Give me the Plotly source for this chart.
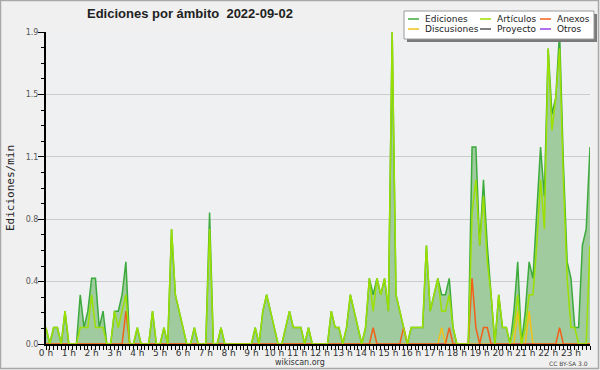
import plotly.graph_objects as go

# ---- data: edits per minute, 10-minute bins, 2022-09-02 ----
hour_labels = [f"{h} h" for h in range(24)]
y_tick_vals = [0, 0.38, 0.76, 1.14, 1.52, 1.9]
y_tick_text = ["0.0", "0.4", "0.8", "1.1", "1.5", "1.9"]

ediciones = [
    0.1, 0, 0.1, 0.1, 0, 0.2, 0, 0, 0, 0.3,
    0.1, 0.2, 0.4, 0.4, 0.1, 0.2, 0, 0, 0.2, 0.2,
    0.3, 0.5, 0, 0, 0.1, 0, 0, 0, 0.2, 0,
    0, 0.1, 0, 0.7, 0.3, 0.2, 0.1, 0, 0, 0.1,
    0, 0, 0, 0.8, 0, 0, 0.1, 0, 0, 0,
    0, 0, 0, 0, 0, 0.1, 0, 0.2, 0.3, 0.2,
    0.1, 0, 0, 0.1, 0.2, 0.1, 0.1, 0.1, 0, 0.1,
    0, 0, 0, 0, 0, 0.2, 0.1, 0.1, 0, 0.1,
    0.3, 0.2, 0.1, 0, 0.1, 0.4, 0.3, 0.4, 0.3, 0.4,
    0.2, 1.9, 0.3, 0.2, 0.1, 0, 0.1, 0.1, 0.1, 0.1,
    0.6, 0.2, 0.3, 0.4, 0.3, 0.3, 0.4, 0.1, 0, 0,
    0, 0, 1.2, 1.2, 0.6, 1.0, 0.6, 0.3, 0, 0.3,
    0.1, 0.1, 0, 0.2, 0.5, 0, 0.2, 0.5, 0.4, 0.8,
    1.2, 0.9, 1.8, 1.4, 1.5, 1.9, 1.1, 0.5, 0.4, 0.1,
    0.1, 0.6, 0.7, 1.2,
]
articulos = [
    0.1, 0, 0.1, 0.1, 0, 0.2, 0, 0, 0, 0.1,
    0.1, 0.1, 0.3, 0.1, 0.1, 0.1, 0, 0, 0.2, 0.1,
    0.2, 0.3, 0, 0, 0.1, 0, 0, 0, 0.2, 0,
    0, 0.1, 0, 0.7, 0.3, 0.2, 0.1, 0, 0, 0.1,
    0, 0, 0, 0.7, 0, 0, 0.1, 0, 0, 0,
    0, 0, 0, 0, 0, 0.1, 0, 0.2, 0.3, 0.2,
    0.1, 0, 0, 0.1, 0.2, 0.1, 0.1, 0.1, 0, 0.1,
    0, 0, 0, 0, 0, 0.2, 0.1, 0.1, 0, 0.1,
    0.3, 0.2, 0.1, 0, 0.1, 0.4, 0.2, 0.4, 0.3, 0.4,
    0.2, 1.9, 0.3, 0.2, 0.1, 0, 0.1, 0.1, 0.1, 0.1,
    0.6, 0.2, 0.3, 0.4, 0.2, 0.2, 0.3, 0.1, 0, 0,
    0, 0, 0.8, 1.0, 0.6, 0.9, 0.5, 0.3, 0, 0.3,
    0.1, 0.1, 0, 0.1, 0.3, 0, 0.1, 0.3, 0.3, 0.6,
    1.0, 0.7, 1.8, 1.3, 1.5, 1.8, 1.0, 0.4, 0.1, 0.1,
    0, 0, 0, 0.6,
]
anexos_points = {21: 0.2, 86: 0.1, 94: 0.1, 106: 0.1, 112: 0.4, 113: 0.1,
                 115: 0.1, 116: 0.1, 135: 0.1}
discusiones_points = {104: 0.1, 124: 0.2, 127: 0.2}
n = len(ediciones)
anexos = [anexos_points.get(i, 0) for i in range(n)]
discusiones = [discusiones_points.get(i, 0) for i in range(n)]
proyecto = [0] * n
otros = [0] * n

x = [i / 6 for i in range(n)]  # hours

C_ED = "#3daa3d"
C_FILL = "#9fcb9f"
C_ART = "#9be000"
C_ANE = "#f2601a"
C_DIS = "#f2c21a"
C_PRO = "#555555"
C_OTR = "#9a40e8"

fig = go.Figure()
fig.add_trace(go.Scatter(x=x, y=ediciones, mode="lines", fill="tozeroy",
                         fillcolor=C_FILL, line=dict(color=C_ED, width=1.5),
                         showlegend=False))
for ys, c in [(proyecto, C_PRO), (otros, C_OTR), (discusiones, C_DIS),
              (anexos, C_ANE), (articulos, C_ART)]:
    fig.add_trace(go.Scatter(x=x, y=ys, mode="lines",
                             line=dict(color=c, width=1.5), showlegend=False))

L, R, T, B = 46, 10, 32, 26
W, H = 600, 370
PW, PH = W - L - R, H - T - B


def X(px):
    return (px - L) / PW


def Y(py):
    return (H - B - py) / PH


shapes = []
annotations = []
# image frame
shapes.append(dict(type="rect", xref="paper", yref="paper",
                   x0=X(0.5), x1=X(W - 1.5), y0=Y(0.5), y1=Y(H - 1.5),
                   line=dict(color="#a8a8a8", width=1.5), fillcolor="rgba(0,0,0,0)",
                   layer="above"))
# legend: shadow + box
shapes.append(dict(type="rect", xref="paper", yref="paper",
                   x0=X(407), x1=X(597), y0=Y(14), y1=Y(42),
                   line=dict(width=0), fillcolor="#7a7a7a", layer="above"))
shapes.append(dict(type="rect", xref="paper", yref="paper",
                   x0=X(404), x1=X(594), y0=Y(11), y1=Y(39),
                   line=dict(color="#9a9a9a", width=1), fillcolor="#ffffff",
                   layer="above"))
legend_items = [
    ("Ediciones", C_ED, 408, 19), ("Artículos", C_ART, 480, 19), ("Anexos", C_ANE, 540, 19),
    ("Discusiones", C_DIS, 408, 29), ("Proyecto", C_PRO, 480, 29), ("Otros", C_OTR, 540, 29),
]
for name, col, lx, ly in legend_items:
    shapes.append(dict(type="line", xref="paper", yref="paper",
                       x0=X(lx), x1=X(lx + 11), y0=Y(ly), y1=Y(ly),
                       line=dict(color=col, width=1.5), layer="above"))
    annotations.append(dict(text=name, xref="paper", yref="paper",
                            x=X(lx + 15), y=Y(ly), xanchor="left", yanchor="middle",
                            showarrow=False,
                            font=dict(family="DejaVu Sans", size=9, color="#222222")))

annotations.append(dict(text="<b>Ediciones por ámbito \u00a02022-09-02</b>",
                        xref="paper", yref="paper", x=X(85), y=Y(14),
                        xanchor="left", yanchor="middle", showarrow=False,
                        font=dict(family="Liberation Sans", size=13, color="#222222")))
annotations.append(dict(text="wikiscan.org", xref="paper", yref="paper",
                        x=X(300), y=Y(362.5), xanchor="center", yanchor="middle",
                        showarrow=False,
                        font=dict(family="DejaVu Sans", size=8, color="#333333")))
annotations.append(dict(text="CC BY-SA 3.0", xref="paper", yref="paper",
                        x=X(590), y=Y(363), xanchor="right", yanchor="middle",
                        showarrow=False,
                        font=dict(family="DejaVu Sans", size=6, color="#444444")))
annotations.append(dict(text="Ediciones/min", xref="paper", yref="paper",
                        x=X(10), y=Y(188), xanchor="center", yanchor="middle",
                        textangle=-90, showarrow=False,
                        font=dict(family="DejaVu Sans Mono", size=11, color="#222222")))

fig.update_layout(
    width=W, height=H, autosize=False,
    margin=dict(l=L, r=R, t=T, b=B, pad=0, autoexpand=False),
    paper_bgcolor="#f0f0f0",
    plot_bgcolor="#eff0f2",
    shapes=shapes,
    annotations=annotations,
    showlegend=False,
    xaxis=dict(range=[0, (n - 1) / 6], tickvals=list(range(24)), ticktext=hour_labels,
               ticks="outside", ticklen=4, tickwidth=1, tickcolor="#000",
               showline=True, linecolor="#000", linewidth=2, showgrid=False,
               zeroline=False, automargin=False, ticklabelstandoff=-5,
               tickfont=dict(family="DejaVu Sans", size=9, color="#333333"),
               minor=dict(dtick=1 / 6, tick0=0, ticks="outside", ticklen=4,
                          tickcolor="#000", tickwidth=1, showgrid=False)),
    yaxis=dict(range=[0, 1.9], tickvals=y_tick_vals, ticktext=y_tick_text,
               ticks="outside", ticklen=6, tickwidth=1, tickcolor="#000",
               showline=True, linecolor="#000", linewidth=2, automargin=False,
               showgrid=True, gridcolor="#cccccc", gridwidth=1, zeroline=False,
               ticklabelstandoff=-2,
               tickfont=dict(family="DejaVu Sans", size=8, color="#555555"),
               minor=dict(dtick=0.095, tick0=0, ticks="outside", ticklen=3,
                          tickcolor="#000", tickwidth=1, showgrid=False)),
)

fig.write_html("out.html", config={"displayModeBar": False, "responsive": False},
               default_width="600px", default_height="370px",
               post_script="document.body.style.margin='0';")
